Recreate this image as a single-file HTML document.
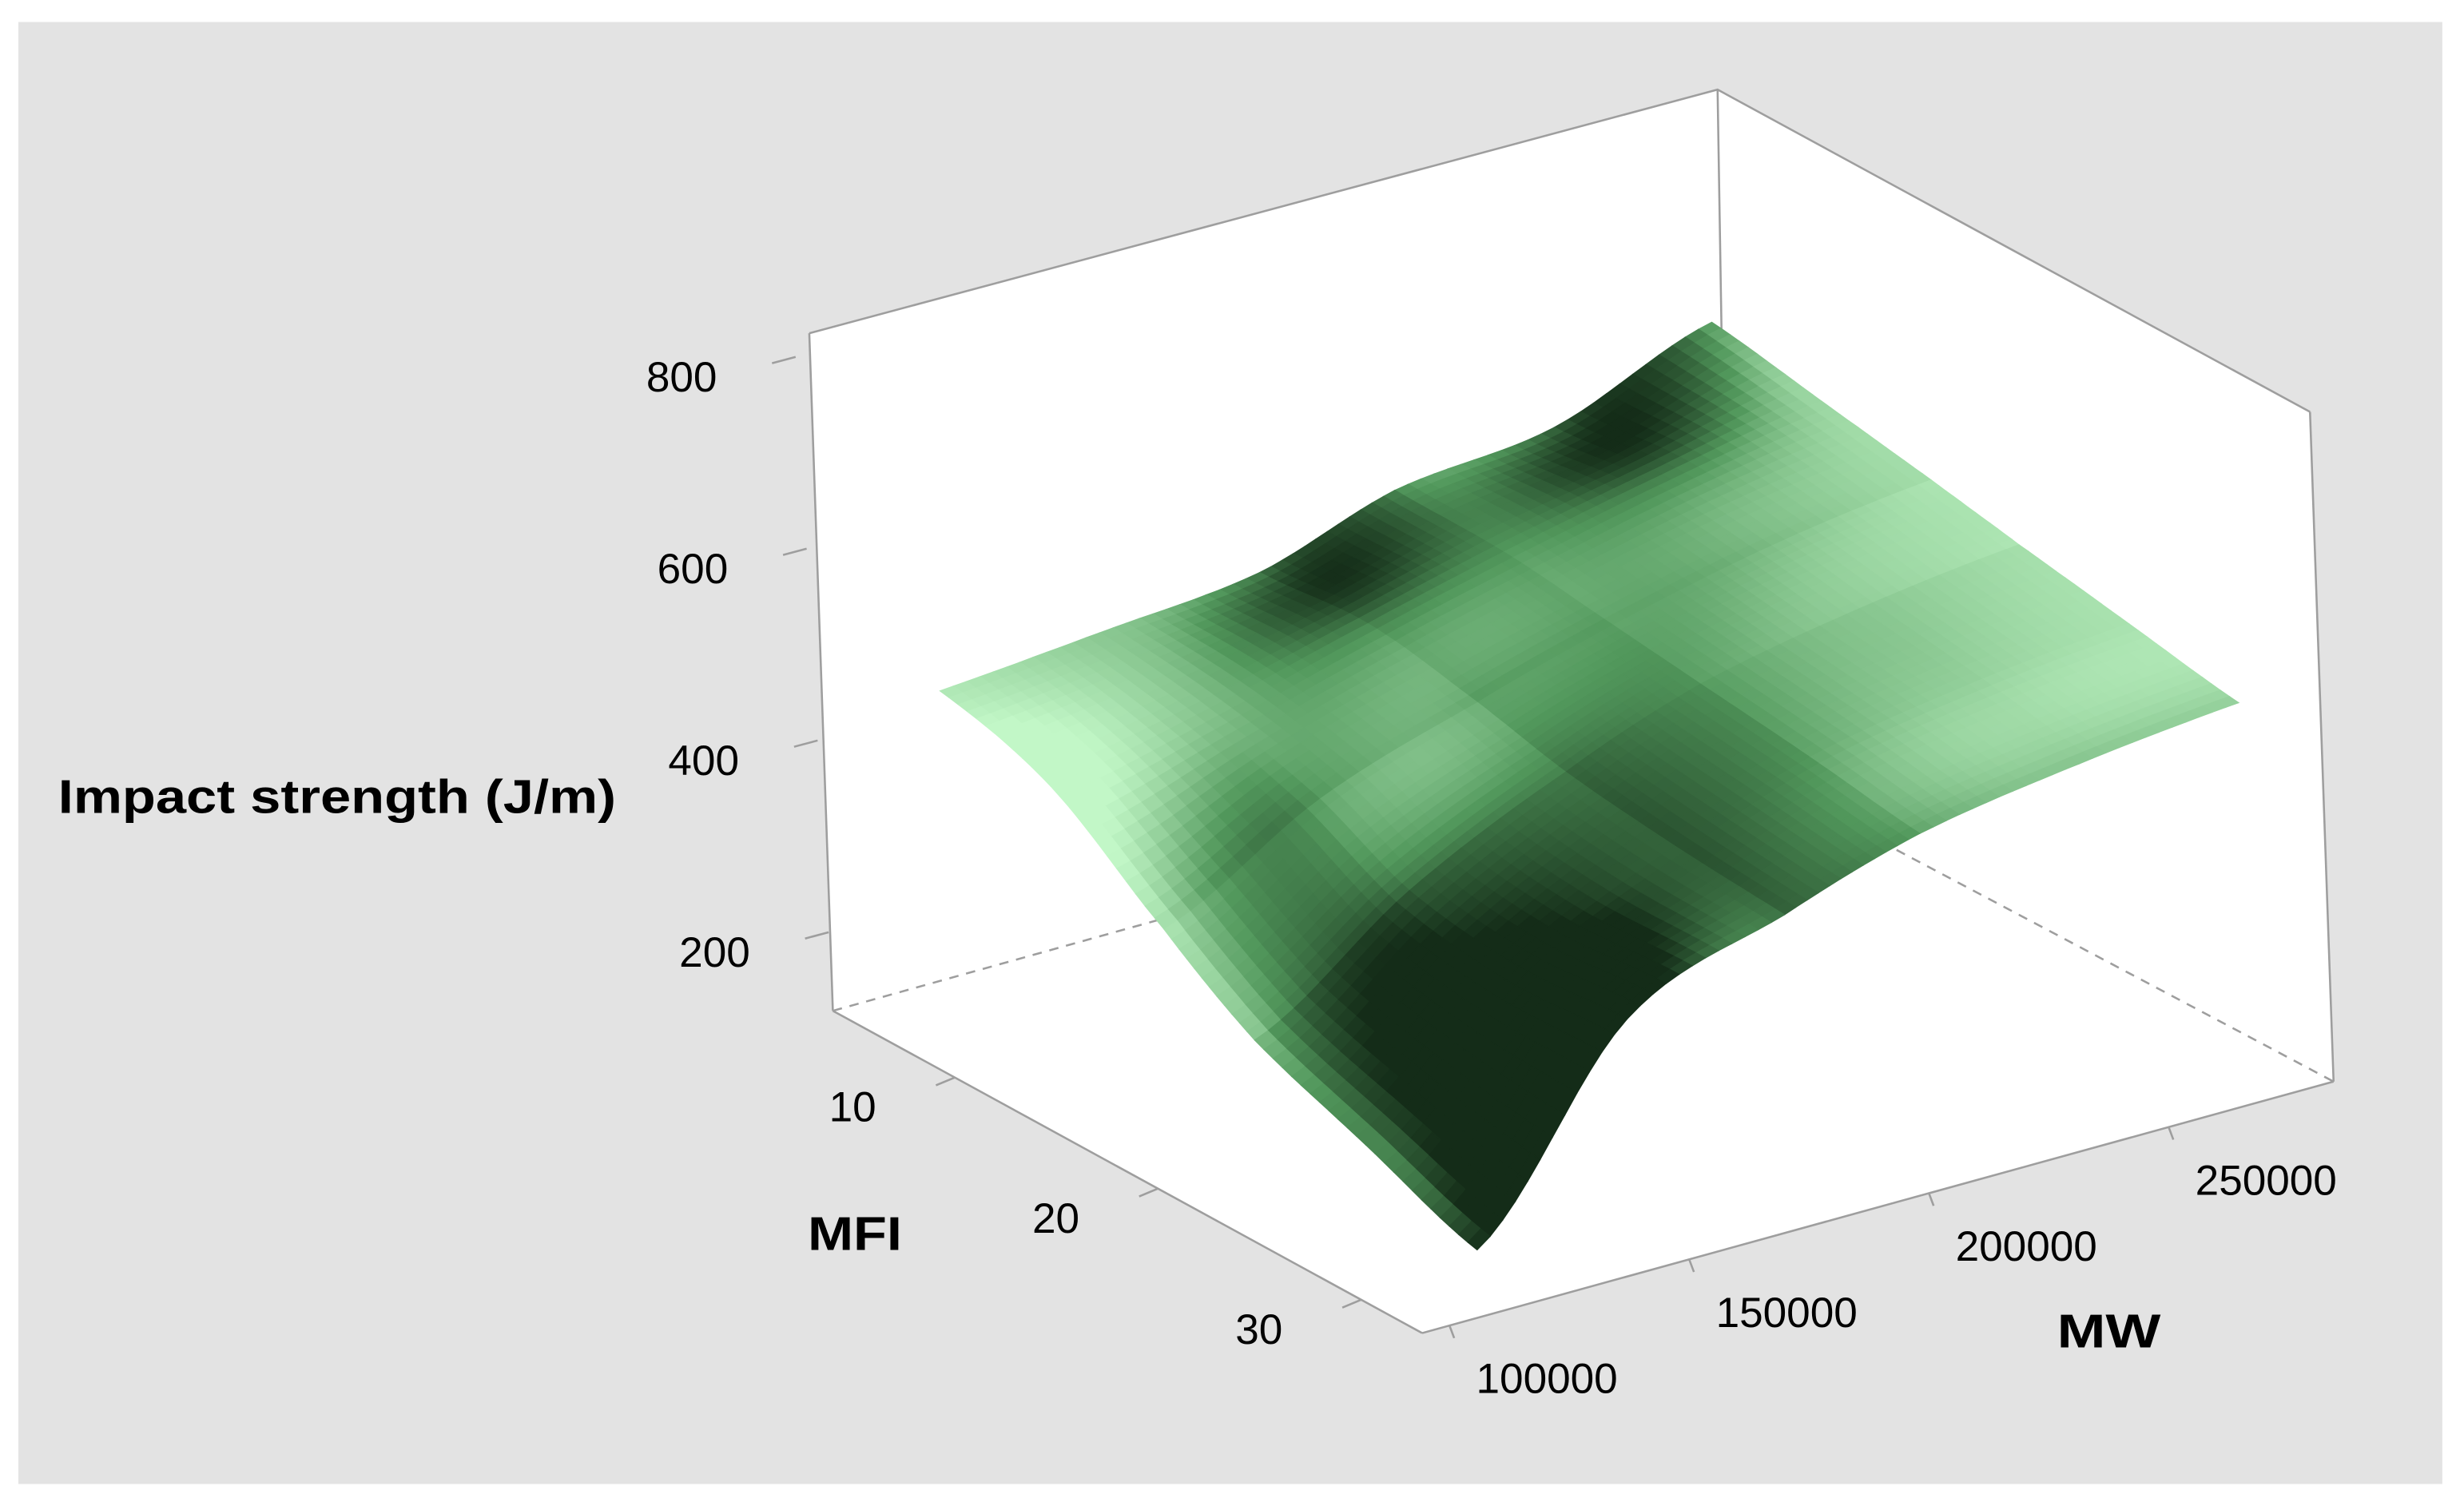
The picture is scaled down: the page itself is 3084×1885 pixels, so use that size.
<!DOCTYPE html>
<html><head><meta charset="utf-8">
<style>
html,body{margin:0;padding:0;background:#fff;}
svg{display:block;}
text{font-family:"Liberation Sans",sans-serif;fill:#000;}
</style></head>
<body>
<svg id="chart" width="3084" height="1885" viewBox="0 0 1568 958" preserveAspectRatio="none" xmlns="http://www.w3.org/2000/svg">
<rect x="11.7" y="14" width="1542.5" height="930" fill="#e3e3e3"/>
<polygon points="515,212 1093,57 1470,262 1485,688 905,848 530,643" fill="#fff"/>
<g stroke="#9e9e9e" stroke-width="1.3" fill="none">
<polyline points="515,212 1093,57 1470,262"/>
<line x1="515" y1="212" x2="530" y2="643"/>
<line x1="1470" y1="262" x2="1485" y2="688"/>
<line x1="1093" y1="57" x2="1100" y2="484"/>
<line x1="530" y1="643" x2="1100" y2="484" stroke-dasharray="6,5"/>
<line x1="1100" y1="484" x2="1485" y2="688" stroke-dasharray="6,5"/>
<line x1="530" y1="643" x2="905" y2="848"/>
<line x1="905" y1="848" x2="1485" y2="688"/>
</g>
<g id="surface"></g>
<g id="ticks" stroke="#9e9e9e" stroke-width="1.3"></g>
<g id="labels" font-size="27"></g>
<text x="37" y="517" font-size="30" font-weight="bold" textLength="355" lengthAdjust="spacingAndGlyphs">Impact strength (J/m)</text>
<text x="514" y="795" font-size="30" font-weight="bold" textLength="60" lengthAdjust="spacingAndGlyphs">MFI</text>
<text x="1309" y="857" font-size="30" font-weight="bold" textLength="66" lengthAdjust="spacingAndGlyphs">MW</text>
</svg>
<script>
const mwValues = [100000, 135000, 170000, 200000, 235000, 270000];
const mfiValues = [8, 13, 18, 22, 27, 32];
// rows: mfi, columns: mw
const zRow0 = [450, 455, 462, 500, 510, 564];
const zRow1 = [420, 445, 478, 505, 530, 551];
const zRow2 = [340, 420, 465, 498, 525, 538];
const zRow3 = [280, 380, 448, 492, 515, 526];
const zRow4 = [240, 370, 440, 485, 505, 513];
const zRow5 = [200, 385, 438, 475, 492, 500];
const zTicks = [200, 400, 600, 800];
const mfiTicks = [10, 20, 30];
const mwTicks = [100000, 150000, 200000, 250000];

const zGrid = [zRow0, zRow1, zRow2, zRow3, zRow4, zRow5];
const NS = 'http://www.w3.org/2000/svg';
const O = [614, 714], U = [495, -165], V = [333, 203], W = [-0.035, -0.61];
function sOf(mw){return (mw - 100000) / 170000;}
function tOf(mfi){return (mfi - 8) / 24;}
function proj(mw, mfi, z){
  const s = sOf(mw), t = tOf(mfi);
  return [O[0] + s*U[0] + t*V[0] + z*W[0], O[1] + s*U[1] + t*V[1] + z*W[1]];
}
function zY(z){return 640 - (z - 123) * 0.61;}
function zX(z){return 530 - (z - 123) * 0.035;}
function mfiPt(m){const f = (m - 4) / 29; return [530 + 375*f, 643 + 205*f];}
function mwPt(m){const f = (m - 94300) / 190100; return [905 + 580*f, 848 - 160*f];}

function lerp(a,b,f){return a+(b-a)*f;}
function cr(p0,p1,p2,p3,f){
  return 0.5*((2*p1)+(-p0+p2)*f+(2*p0-5*p1+4*p2-p3)*f*f+(-p0+3*p1-3*p2+p3)*f*f*f);
}
const NC = mwValues.length, NR = mfiValues.length;
function g(r,c){r=Math.max(0,Math.min(NR-1,r));c=Math.max(0,Math.min(NC-1,c));return zGrid[r][c];}
function zAt(s, t){
  const ci = Math.min(NC-2, Math.floor(s)), ri = Math.min(NR-2, Math.floor(t));
  const fs = s-ci, ft = t-ri;
  const rows=[];
  for(let k=-1;k<=2;k++){rows.push(cr(g(ri+k,ci-1),g(ri+k,ci),g(ri+k,ci+1),g(ri+k,ci+2),fs));}
  return cr(rows[0],rows[1],rows[2],rows[3],ft);
}
function gridMw(s){const ci=Math.min(NC-2,Math.floor(s));return lerp(mwValues[ci],mwValues[ci+1],s-ci);}
function gridMfi(t){const ri=Math.min(NR-2,Math.floor(t));return lerp(mfiValues[ri],mfiValues[ri+1],t-ri);}
const stops = [[0,[20,44,24]],[0.5,[82,152,92]],[1,[194,247,199]]];
function color(v){
  v = Math.max(0, Math.min(1, v));
  for (let i=0;i<stops.length-1;i++){
    if (v <= stops[i+1][0]){
      const f=(v-stops[i][0])/(stops[i+1][0]-stops[i][0]);
      const c=stops[i][1].map((x,k)=>Math.round(lerp(x,stops[i+1][1][k],f)));
      return 'rgb('+c.join(',')+')';
    }
  }
}
const surf = document.getElementById('surface');
const SUB = 12;
const L=[0.15,0.6,0.6]; const ll=Math.hypot(L[0],L[1],L[2]);
const quads = [];
for (let r=0;r<(NR-1)*SUB;r++){
  for (let c=0;c<(NC-1)*SUB;c++){
    const s0=c/SUB, s1=(c+1)/SUB, t0=r/SUB, t1=(r+1)/SUB;
    const pts=[[s0,t0],[s1,t0],[s1,t1],[s0,t1]].map(([s,t])=>proj(gridMw(s),gridMfi(t),zAt(s,t)));
    const sm=(s0+s1)/2, tm=(t0+t1)/2;
    const S0=sOf(gridMw(s0)),S1=sOf(gridMw(s1)),T0=tOf(gridMfi(t0)),T1=tOf(gridMfi(t1));
    const dzds=(zAt(s1,tm)-zAt(s0,tm))/300/(S1-S0);
    const dzdt=(zAt(sm,t1)-zAt(sm,t0))/300/(T1-T0);
    const n=[-dzds,-dzdt,1]; const len=Math.hypot(n[0],n[1],n[2]);
    const dot=(n[0]*L[0]+n[1]*L[1]+n[2]*L[2])/len/ll;
    const depth = tOf(gridMfi(tm)) + (1 - sOf(gridMw(sm))) * 0.6;
    quads.push({pts, col: color((dot-0.28)/0.6), depth});
  }
}
quads.sort((a,b)=>a.depth-b.depth);
quads.forEach(q=>{
  const p=document.createElementNS(NS,'polygon');
  p.setAttribute('points', q.pts.map(x=>x[0].toFixed(1)+','+x[1].toFixed(1)).join(' '));
  p.setAttribute('fill', q.col);
  p.setAttribute('stroke', q.col);
  p.setAttribute('stroke-width', '0.7');
  
  
  surf.appendChild(p);
});
const tk = document.getElementById('ticks'), lb = document.getElementById('labels');
function addLine(x1,y1,x2,y2){
  const l=document.createElementNS(NS,'line');
  l.setAttribute('x1',x1);l.setAttribute('y1',y1);l.setAttribute('x2',x2);l.setAttribute('y2',y2);
  
  
  tk.appendChild(l);
}
function addText(x,y,str,anchor){
  const t=document.createElementNS(NS,'text');
  t.setAttribute('x',x);t.setAttribute('y',y);t.setAttribute('text-anchor',anchor);
  t.textContent=str;
  
  
  lb.appendChild(t);
}
zTicks.forEach(z=>{
  const x=zX(z), y=zY(z);
  addLine(x-15,y+4,x,y);
  addText(x-50,y+22,String(z),'end');
});
mfiTicks.forEach(m=>{
  const [x,y]=mfiPt(m);
  addLine(x-12,y+5,x,y);
  addText(x-50,y+28,String(m),'end');
});
mwTicks.forEach(m=>{
  const [x,y]=mwPt(m);
  addLine(x,y,x+3,y+8);
  addText(x+62,y+43,String(m),'middle');
});
</script>
</body></html>
